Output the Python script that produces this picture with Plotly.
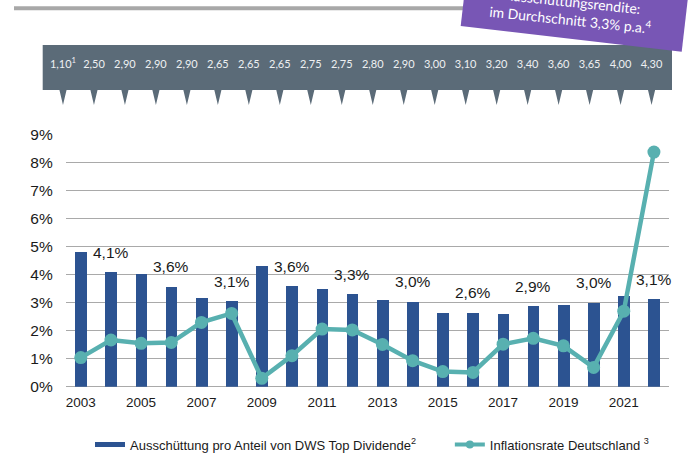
import plotly.graph_objects as go

# ---------------- data ----------------
years = list(range(2003, 2023))
dividend_yield = [4.80, 4.09, 4.04, 3.57, 3.16, 3.06, 4.31, 3.60, 3.48, 3.30,
                  3.10, 3.03, 2.64, 2.64, 2.60, 2.87, 2.93, 3.00, 3.24, 3.12]
inflation = [1.04, 1.67, 1.55, 1.58, 2.30, 2.62, 0.30, 1.11, 2.06, 2.03,
             1.51, 0.93, 0.54, 0.51, 1.52, 1.73, 1.46, 0.69, 2.70, 8.39]
label_years = [2004, 2006, 2008, 2010, 2012, 2014, 2016, 2018, 2020, 2022]
label_texts = ["4,1%", "3,6%", "3,1%", "3,6%", "3,3%", "3,0%", "2,6%", "2,9%", "3,0%", "3,1%"]
payout_labels = ["1,10<sup>1</sup>", "2,50", "2,90", "2,90", "2,90", "2,65", "2,65", "2,65",
                 "2,75", "2,75", "2,80", "2,90", "3,00", "3,10", "3,20", "3,40", "3,60",
                 "3,65", "4,00", "4,30"]
y_ticks = list(range(0, 10))
x_ticks = list(range(2003, 2022, 2))
bar_name = "Ausschüttung pro Anteil von DWS Top Dividende<sup>2</sup>"
line_name = "Inflationsrate Deutschland <sup>3</sup>"
box_text = "Ausschüttungsrendite:<br>im Durchschnitt 3,3% p.a.<sup>4</sup>"

# ---------------- style ----------------
W, H = 688, 454
BLUE = "#2c5391"
TEAL = "#58b0b0"
BANNER = "#5b6b78"
PURPLE = "#7856b5"
GRID = "#a9a9a9"
ARIAL = "Liberation Sans, Arial, sans-serif"
CALIBRI = "Lato, Carlito, sans-serif"


def px(x):
    return x / W


def py(y):
    return 1 - y / H


fig = go.Figure()

# bars
fig.add_trace(go.Bar(
    x=years, y=dividend_yield, marker=dict(color=BLUE, line=dict(width=0)),
    width=0.39, name=bar_name, showlegend=False, hoverinfo="skip",
    xaxis="x", yaxis="y"))
# inflation line
fig.add_trace(go.Scatter(
    x=years, y=inflation, mode="lines+markers", name=line_name,
    line=dict(color=TEAL, width=4.5), marker=dict(color=TEAL, size=13),
    cliponaxis=False, hoverinfo="skip", showlegend=False, xaxis="x", yaxis="y"))

# legend entries (wide bar swatch, small marker like the original)
fig.add_trace(go.Scatter(
    x=[None], y=[None], mode="lines", line=dict(color=BLUE, width=5),
    name=bar_name + "&nbsp;" * 8, showlegend=True))
fig.add_trace(go.Scatter(
    x=[None], y=[None], mode="lines+markers", line=dict(color=TEAL, width=4),
    marker=dict(color=TEAL, size=8), name=line_name, showlegend=True))

# banner: payout per share
idx = list(range(len(payout_labels)))
tri_x, tri_y = [], []
for i in idx:
    tri_x += [i - 0.115, i + 0.115, i, i - 0.115, None]
    tri_y += [1, 1, 0, 1, None]
fig.add_trace(go.Scatter(
    x=tri_x, y=tri_y, mode="lines", fill="toself", fillcolor=BANNER,
    line=dict(width=0, color=BANNER), showlegend=False, hoverinfo="skip",
    xaxis="x2", yaxis="y2"))
fig.add_trace(go.Scatter(
    x=idx, y=[2.67] * len(idx), mode="text", text=payout_labels,
    textposition="middle center",
    textfont=dict(family=CALIBRI, size=11, color="#eef0f2"),
    showlegend=False, hoverinfo="skip", xaxis="x2", yaxis="y2"))

annotations = []
for yr, t in zip(label_years, label_texts):
    annotations.append(dict(
        x=yr, y=dividend_yield[years.index(yr)], xref="x", yref="y",
        text=t, showarrow=False, yshift=20, yanchor="middle",
        font=dict(family=ARIAL, size=15.5, color="#1a1a1a")))

annotations.append(dict(
    x=px(571), y=py(11), xref="paper", yref="paper", text=box_text,
    showarrow=False, textangle=6, xanchor="center", yanchor="middle",
    font=dict(family=CALIBRI, size=14, color="white")))

# purple rotated box corners (pixels)
BL = (460.7, 26.0)
BR = (681.7, 51.7)
TR = (690.9, -27.8)
TL = (469.9, -53.5)
path = "M{},{} L{},{} L{},{} L{},{} Z".format(
    px(BL[0]), py(BL[1]), px(BR[0]), py(BR[1]),
    px(TR[0]), py(TR[1]), px(TL[0]), py(TL[1]))

shapes = [
    dict(type="line", xref="paper", yref="paper", x0=px(14), x1=px(470),
         y0=py(8.3), y1=py(8.3), line=dict(color="#a8a8a8", width=4)),
    dict(type="rect", xref="x2 domain", yref="y2", x0=0, x1=1, y0=1, y1=4,
         fillcolor=BANNER, line=dict(width=0), layer="below"),
    dict(type="path", xref="paper", yref="paper", path=path,
         fillcolor=PURPLE, line=dict(width=0)),
]

fig.update_layout(
    width=W, height=H, autosize=False,
    margin=dict(l=0, r=0, t=0, b=0, autoexpand=False),
    paper_bgcolor="white", plot_bgcolor="white",
    bargap=0,
    font=dict(family=ARIAL, color="#1a1a1a"),
    xaxis=dict(
        domain=[px(65.7), px(669)], range=[2002.5, 2022.5],
        tickmode="array", tickvals=x_ticks, ticktext=[str(v) for v in x_ticks],
        showgrid=False, zeroline=False, showline=False, ticks="",
        ticklabelstandoff=6, automargin=False,
        tickfont=dict(family=ARIAL, size=13.5, color="#1a1a1a")),
    yaxis=dict(
        domain=[py(386.7), py(135)], range=[0, 9],
        tickmode="array", tickvals=y_ticks, ticktext=[f"{v}%" for v in y_ticks],
        showgrid=True, gridcolor=GRID, gridwidth=1.3,
        zeroline=True, zerolinecolor=GRID, zerolinewidth=1.3,
        showline=False, ticks="", ticklabelstandoff=12, automargin=False,
        tickfont=dict(family=ARIAL, size=15.5, color="#1a1a1a")),
    xaxis2=dict(
        domain=[px(42.7), px(672)], range=[-0.655, 19.66], anchor="y2",
        visible=False, fixedrange=True),
    yaxis2=dict(
        domain=[py(105), py(45)], range=[0, 4], anchor="x2",
        visible=False, fixedrange=True),
    legend=dict(
        orientation="h", x=px(90), y=py(444.5), xanchor="left", yanchor="middle",
        font=dict(family=ARIAL, size=13, color="#1a1a1a"),
        bgcolor="rgba(0,0,0,0)", tracegroupgap=0,
        itemclick=False, itemdoubleclick=False),
    annotations=annotations,
    shapes=shapes,
    showlegend=True,
)

fig.write_html(
    "out.html",
    config={"displayModeBar": False},
    post_script="document.body.style.margin='0';document.body.style.padding='0';",
)
